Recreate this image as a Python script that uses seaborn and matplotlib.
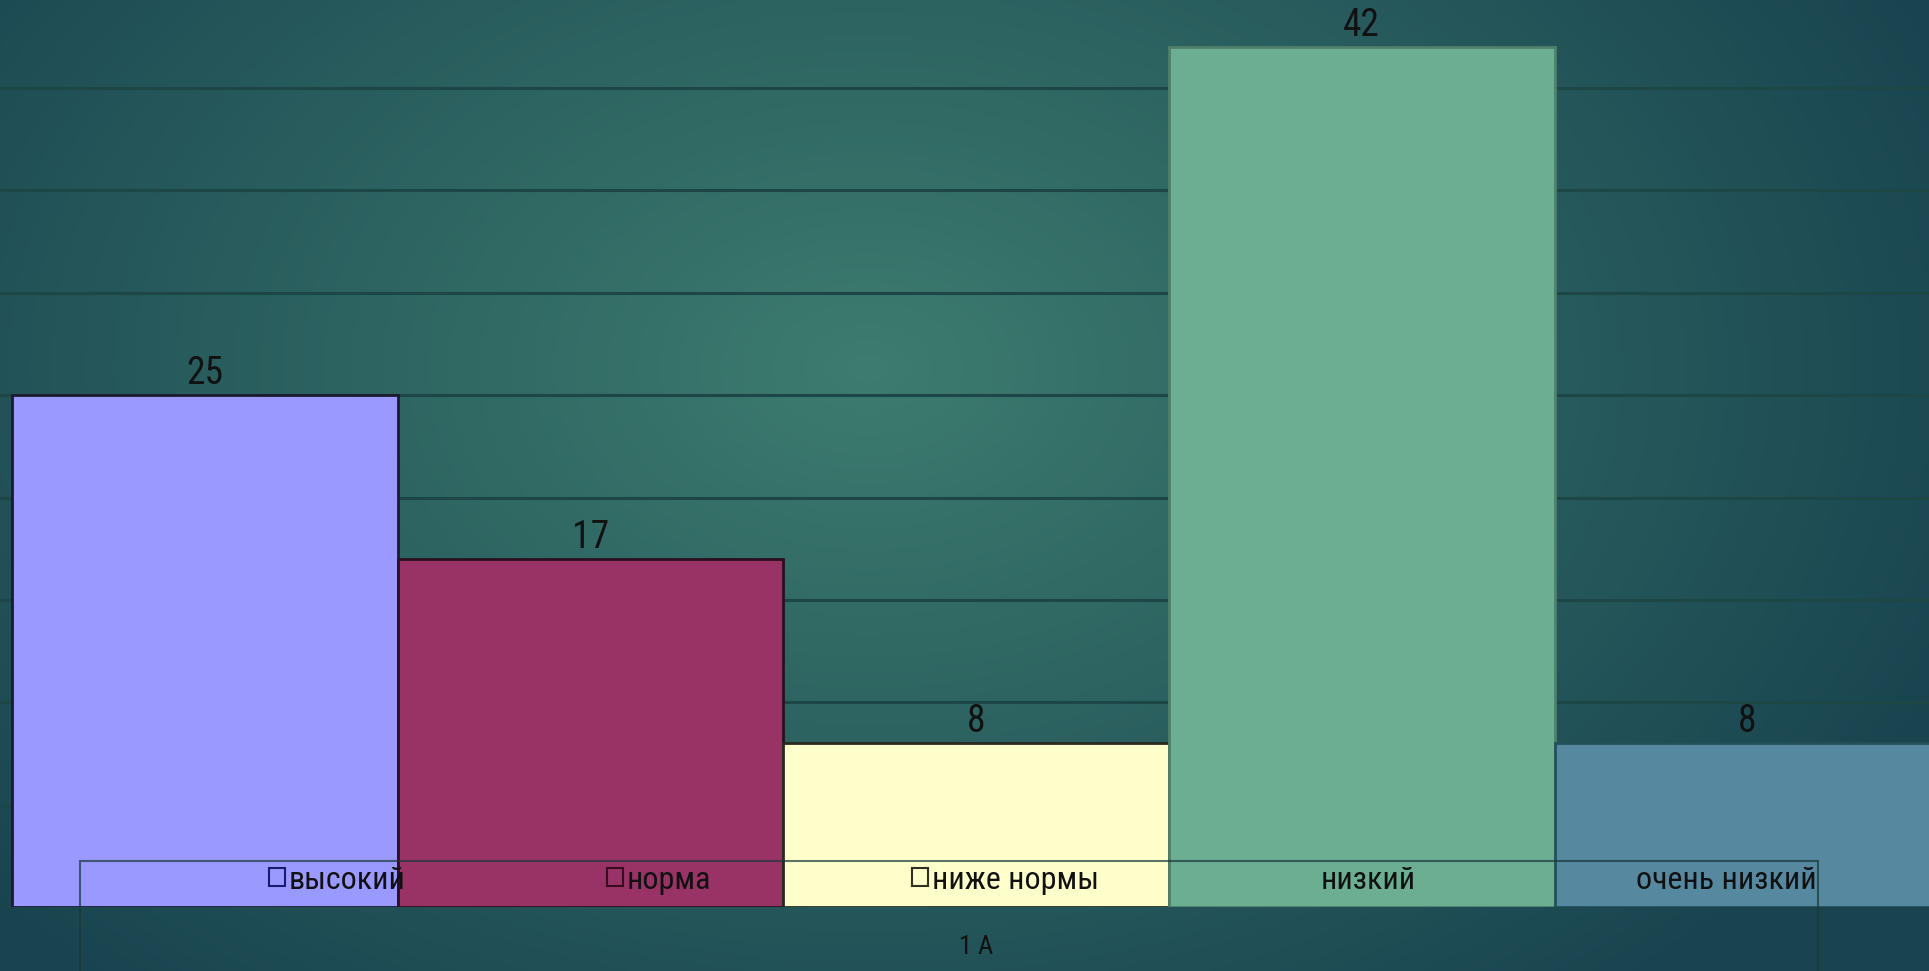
import numpy as np
import pandas as pd
import matplotlib
matplotlib.use("Agg")
import matplotlib.pyplot as plt
from matplotlib import font_manager
from matplotlib.patches import Patch, Rectangle
import seaborn as sns

# data
group = ["1 A"] * 5
levels = ["высокий", "норма", "ниже нормы", "низкий", "очень низкий"]
values = [25, 17, 8, 42, 8]
bar_colors = ["#9999FF", "#993366", "#FFFFCC", "#6BAE92", "#5688A0"]
edge_colors = ["#1b1b30", "#2a1020", "#2a2a20", "#4f806c", "#24505a"]
key_colors = ["#1a1a70", "#3a0a20", "#303020", "none", "none"]

sns.set_theme(style="white")
installed = {f.name for f in font_manager.fontManager.ttflist}
narrow = next((f for f in ["Liberation Sans Narrow", "DejaVu Sans Condensed",
                           "Roboto Condensed", "Liberation Sans"] if f in installed),
              "DejaVu Sans")
plt.rcParams["font.family"] = [narrow, "DejaVu Sans"]

df = pd.DataFrame({"group": group, "level": levels, "value": values})

fig = plt.figure(figsize=(19.29, 9.71), dpi=100)

# background gradient (teal, lighter around the centre)
bg = fig.add_axes([0, 0, 1, 1], zorder=-5)
yy, xx = np.mgrid[0:1:300j, 0:1:600j]
d = np.sqrt(((xx - 0.45) / 0.62) ** 2 + ((yy - 0.38) / 0.85) ** 2)
d = np.clip(d, 0, 1)[..., None]
inner = np.array([0x3D, 0x7C, 0x6F]) / 255
outer = np.array([0x18, 0x43, 0x4F]) / 255
bg.imshow(inner * (1 - d) + outer * d, aspect="auto", extent=[0, 1, 0, 1], origin="upper")
bg.axis("off")

ax = fig.add_axes([0, 0.0659, 1, 0.9341])
ax.patch.set_alpha(0)
sns.barplot(data=df, x="group", y="value", hue="level", palette=bar_colors,
            width=1.0, saturation=1, legend=False, ax=ax)

for bar, ec in zip(ax.patches, edge_colors):
    bar.set_edgecolor(ec)
    bar.set_linewidth(2)

for cont in ax.containers:
    ax.bar_label(cont, fontsize=27, color="#111111", padding=2)

ax.set_xlim(-0.5062, 0.4941)
ax.set_ylim(0, 44.3)
ax.set_yticks(range(0, 45, 5))
ax.set_yticklabels([])
ax.yaxis.grid(True, color="#1d4746", linewidth=2.2)
ax.set_axisbelow(True)
ax.tick_params(axis="x", length=0, pad=20, labelsize=19, labelcolor="#111111")
ax.tick_params(axis="y", length=0)
ax.set_xlabel("")
ax.set_ylabel("")
sns.despine(ax=ax, left=True, bottom=True)

# legend row over the bar bottoms
handles = [Patch(facecolor="none", edgecolor=k, linewidth=1.5) for k in key_colors]
fig.legend(handles, levels, loc="center right", bbox_to_anchor=(0.942, 0.0937),
           ncol=5, frameon=False, fontsize=23, handlelength=0.5, handleheight=0.5,
           handletextpad=0.12, columnspacing=6.3, borderpad=0, borderaxespad=0,
           labelcolor="#111111")
fig.patches.append(Rectangle((80 / 1929, -0.2), (1818 - 80) / 1929, 0.2 + 0.1128,
                             transform=fig.transFigure, fill=False,
                             edgecolor="#1a3838", linewidth=1.5, alpha=0.7, zorder=3))

fig.savefig("out.png", dpi=100)
